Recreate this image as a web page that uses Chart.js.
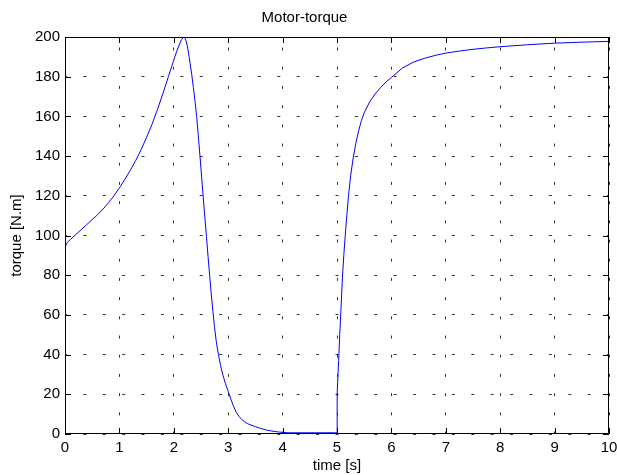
<!DOCTYPE html>
<html>
<head>
<meta charset="utf-8">
<script src="https://cdn.jsdelivr.net/npm/chart.js@4"></script>
<style>
  body { margin: 0; background: #fff; }
  canvas { display: block; }
</style>
</head>
<body>
<canvas id="torqueChart" width="617" height="475"></canvas>
<script>
// simulation output
var time = [0, 0.04, 0.1, 0.2, 0.3, 0.4, 0.5, 0.6, 0.7, 0.8, 0.9, 1.0, 1.1, 1.2, 1.3, 1.4,
  1.5, 1.6, 1.7, 1.8, 1.9, 2.0, 2.05, 2.1, 2.14, 2.18,
  2.2, 2.22, 2.24, 2.26, 2.28, 2.3, 2.33, 2.36, 2.39, 2.42, 2.45, 2.48, 2.51, 2.54, 2.57,
  2.6, 2.63, 2.66, 2.69, 2.72, 2.75, 2.78, 2.82, 2.86, 2.9, 2.95, 3.0, 3.05, 3.1, 3.15,
  3.2, 3.25, 3.3, 3.35, 3.4, 3.5, 3.6, 3.7, 3.8, 3.9, 4.0, 4.1, 5.0,
  5.003, 5.03, 5.05, 5.07, 5.1, 5.125, 5.15, 5.18, 5.21, 5.25, 5.3, 5.35, 5.4, 5.45, 5.5,
  5.6, 5.7, 5.8, 5.9, 6.0, 6.2, 6.4, 6.6, 6.8, 7.0, 7.25, 7.5, 7.75, 8.0, 8.5, 9.0, 9.5, 10];
var torque = [94, 96.5, 98, 100.5, 103, 105.5, 108, 110.5, 113.3, 116.5, 120, 124, 128.3,
  132.8, 137.8, 143.3, 149.5, 156, 163.5, 171.5, 180, 188.4, 192.5, 196, 198.6, 200,
  199.8, 198.5, 196.5, 193.5, 190.3, 186.8, 181, 174.5, 167.5, 160, 150.5, 140.5, 130,
  119.5, 109.5, 99.5, 89.3, 79.5, 70, 61.5, 53.5, 46.8, 40, 34.5, 30, 25.3, 21.5, 17.5,
  13.8, 10.8, 8.8, 7.3, 6.2, 5.3, 4.7, 3.7, 2.8, 2.0, 1.5, 1.1, 0.8, 0.6, 0.6,
  20.5, 37, 50, 61, 79, 90, 99.5, 110, 119.5, 130, 139.5, 147, 153, 158, 161.8,
  167.3, 171.3, 174.5, 177.3, 179.6, 184.3, 187.3, 189.2, 190.7, 191.9, 192.9, 193.8,
  194.5, 195.1, 196.1, 196.9, 197.4, 197.8];

var xTicks = [0, 1, 2, 3, 4, 5, 6, 7, 8, 9, 10];
var yTicks = [0, 20, 40, 60, 80, 100, 120, 140, 160, 180, 200];

var points = [];
for (var i = 0; i < time.length; i++) {
  points.push({ x: time[i], y: torque[i] });
}

var fontFam = "'Liberation Sans', Arial, sans-serif";

// matlab style box with inward ticks
var boxPlugin = {
  id: 'boxPlugin',
  afterDraw: function(chart) {
    var ctx = chart.ctx;
    var a = chart.chartArea;
    var xs = chart.scales.x, ys = chart.scales.y;
    ctx.save();
    ctx.strokeStyle = '#000';
    ctx.lineWidth = 1;
    ctx.beginPath();
    ctx.rect(Math.round(a.left) + 0.5, Math.round(a.top) + 0.5,
      Math.round(a.right - a.left) - 1, Math.round(a.bottom - a.top) - 1);
    ctx.stroke();
    ctx.beginPath();
    xTicks.forEach(function(v) {
      var px = Math.round(xs.getPixelForValue(v)) + 0.5;
      ctx.moveTo(px, a.bottom); ctx.lineTo(px, a.bottom - 6);
      ctx.moveTo(px, a.top); ctx.lineTo(px, a.top + 6);
    });
    yTicks.forEach(function(v) {
      var py = Math.round(ys.getPixelForValue(v)) + 0.5;
      ctx.moveTo(a.left, py); ctx.lineTo(a.left + 6, py);
      ctx.moveTo(a.right, py); ctx.lineTo(a.right - 6, py);
    });
    ctx.stroke();
    ctx.restore();
  }
};

var ctx = document.getElementById('torqueChart').getContext('2d');
var chart = new Chart(ctx, {
  type: 'line',
  data: {
    datasets: [{
      label: 'torque',
      data: points,
      borderColor: '#0000ff',
      borderWidth: 1,
      pointRadius: 0,
      tension: 0,
      fill: false
    }]
  },
  options: {
    responsive: false,
    animation: false,
    devicePixelRatio: 1,
    layout: { padding: { top: 0, right: 8, bottom: 0, left: 0 } },
    plugins: {
      legend: { display: false },
      tooltip: { enabled: false },
      title: {
        display: true,
        text: 'Motor-torque',
        color: '#000',
        font: { family: fontFam, size: 15, weight: 'normal' },
        padding: { top: 9, bottom: 10 }
      }
    },
    scales: {
      x: {
        type: 'linear',
        min: 0,
        max: 10,
        afterBuildTicks: function(s) { s.ticks = xTicks.map(function(v) { return { value: v }; }); },
        afterFit: function(s) { s.height = 41; s.paddingLeft = 0; s.paddingRight = 0; },
        ticks: {
          color: '#000',
          padding: 5,
          maxRotation: 0,
          autoSkip: false,
          font: { family: fontFam, size: 15 }
        },
        grid: { color: 'rgba(0,0,0,0.8)', lineWidth: 1, drawTicks: false },
        border: { display: false, dash: [3, 16.2], dashOffset: 8.7 },
        title: {
          display: true,
          text: 'time [s]',
          color: '#000',
          font: { family: fontFam, size: 15 },
          padding: { top: 0, bottom: 0 }
        }
      },
      y: {
        type: 'linear',
        min: 0,
        max: 200,
        afterBuildTicks: function(s) { s.ticks = yTicks.map(function(v) { return { value: v }; }); },
        afterFit: function(s) { s.width = 65; s.paddingTop = 0; s.paddingBottom = 0; },
        ticks: {
          color: '#000',
          padding: 5,
          autoSkip: false,
          font: { family: fontFam, size: 15 }
        },
        grid: { color: 'rgba(0,0,0,0.8)', lineWidth: 1, drawTicks: false },
        border: { display: false, dash: [3, 16.4], dashOffset: 1.1 },
        title: {
          display: true,
          text: 'torque [N.m]',
          color: '#000',
          font: { family: fontFam, size: 15 },
          padding: { top: 7.5, bottom: 0 }
        }
      }
    }
  },
  plugins: [boxPlugin]
});
</script>
</body>
</html>
